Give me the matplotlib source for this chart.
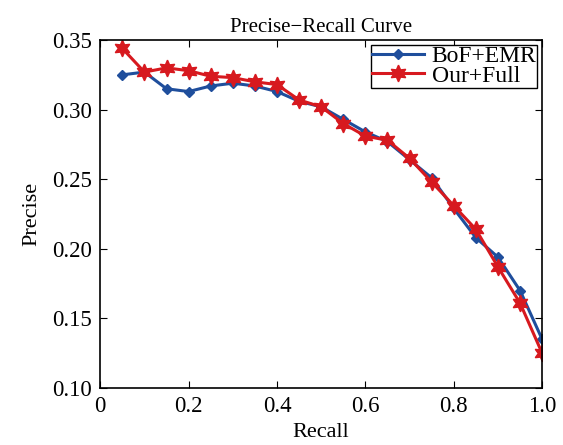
import matplotlib
matplotlib.use("Agg")
import matplotlib.pyplot as plt
from matplotlib.ticker import FuncFormatter

plt.rcParams['font.family'] = ['Liberation Serif', 'DejaVu Serif']

recall = [0.05, 0.10, 0.15, 0.20, 0.25, 0.30, 0.35, 0.40, 0.45, 0.50,
          0.55, 0.60, 0.65, 0.70, 0.75, 0.80, 0.85, 0.90, 0.95, 1.00]
bof_emr = [0.325, 0.327, 0.315, 0.313, 0.317, 0.319, 0.317, 0.313, 0.306, 0.302,
           0.293, 0.284, 0.277, 0.264, 0.251, 0.229, 0.208, 0.194, 0.170, 0.135]
our_full = [0.344, 0.327, 0.330, 0.328, 0.324, 0.323, 0.320, 0.318, 0.307, 0.302,
            0.290, 0.281, 0.278, 0.265, 0.248, 0.231, 0.214, 0.187, 0.161, 0.125]

fig = plt.figure(figsize=(5.63, 4.45), dpi=100)
ax = fig.add_axes([0.178, 0.128, 0.785, 0.782])

ax.plot(recall, bof_emr, color='#1f4e9c', lw=2.2, marker='D', ms=5,
        label='BoF+EMR')
ax.plot(recall, our_full, color='#d7191f', lw=2.2, marker=(6, 1, 0), ms=12,
        label='Our+Full')

ax.set_xlim(0, 1.0)
ax.set_ylim(0.10, 0.35)
ax.set_xticks([0, 0.2, 0.4, 0.6, 0.8, 1.0])
ax.set_yticks([0.10, 0.15, 0.20, 0.25, 0.30, 0.35])
ax.xaxis.set_major_formatter(FuncFormatter(lambda v, p: '0' if v == 0 else '%.1f' % v))
ax.yaxis.set_major_formatter(FuncFormatter(lambda v, p: '%.2f' % v))
ax.tick_params(direction='in', top=True, right=True, labelsize=16.5, length=5, pad=6)
for s in ax.spines.values():
    s.set_linewidth(1.2)

ax.set_xlabel('Recall', fontsize=16, labelpad=4)
ax.set_ylabel('Precise', fontsize=16, labelpad=8)
ax.set_title('Precise\u2212Recall Curve', fontsize=15, pad=6)

leg = ax.legend(loc='upper right', fontsize=17, fancybox=False, framealpha=1,
                edgecolor='black', borderpad=0.05, labelspacing=-0.1,
                handlelength=2.2, handletextpad=0.3, borderaxespad=0.2)
leg.get_frame().set_linewidth(1.0)

plt.savefig('out.png', dpi=100)
